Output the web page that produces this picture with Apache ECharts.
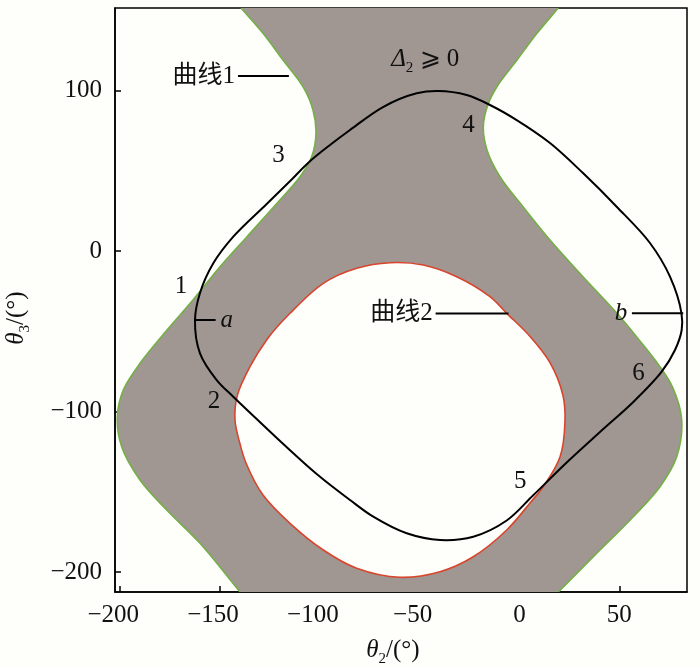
<!DOCTYPE html>
<html>
<head>
<meta charset="utf-8">
<script src="https://cdn.jsdelivr.net/npm/echarts@6/dist/echarts.min.js"></script>
<style>
html,body{margin:0;padding:0;background:#fefefb;}
#c{width:700px;height:667px;}
</style>
</head>
<body>
<div id="c"></div>
<script>
// ---------------- data ----------------
const xTicks = [-200, -150, -100, -50, 0, 50];
const yTicks = [-200, -100, 0, 100];

// 曲线1 (green), left branch, top -> bottom  [θ2, θ3]
const curve1Left = [
  [-139.49,151.4],[-128.47,135.64],[-118.46,119.01],[-108.44,102.39],[-103.43,87.87],
  [-101.93,73.36],[-104.08,58.79],[-109.94,46.33],[-121.46,29.77],[-136.49,8.97],
  [-150.01,-9.72],[-163.54,-30.45],[-176.56,-49.14],[-190.08,-69.88],[-198.45,-86.5],
  [-201.45,-103.13],[-199.25,-121.82],[-190.08,-142.56],[-176.71,-161.24],[-160.03,-181.98],
  [-140.0,-212.3]
];
// 曲线1 (green), right branch, top -> bottom
const curve1Right = [
  [19.43,151.4],[8.77,135.64],[-1.25,119.01],[-10.77,103.44],[-15.78,91.3],[-18.13,77.47],
  [-16.28,62.96],[-9.77,46.33],[1.75,27.65],[15.28,6.91],[31.81,-15.94],[48.84,-38.74],
  [60.36,-55.99],[69.37,-70.31],[76.88,-85.26],[81.24,-105.19],[78.74,-128.04],
  [70.37,-146.73],[57.0,-165.41],[40.32,-186.15],[19.43,-212.3]
];
// 曲线2 (red), closed, clockwise from the top
const curve2 = [
  [-64.86,-7.22],[-48.18,-8.66],[-31.45,-15.94],[-14.78,-28.4],[-6.41,-38.74],[5.41,-53.31],
  [15.28,-69.5],[21.79,-89.99],[22.79,-105.81],[20.29,-128.23],[11.77,-146.91],[5.26,-156.88],
  [-6.41,-173.69],[-23.14,-190.32],[-39.82,-199.66],[-59.85,-203.15],[-81.54,-197.55],
  [-98.27,-186.15],[-114.95,-169.52],[-128.47,-151.9],[-136.99,-131.97],[-140.0,-120.01],
  [-142.5,-105.19],[-141.35,-89.99],[-134.99,-71.99],[-126.47,-54.99],[-114.95,-38.74],
  [-98.27,-20.05],[-81.54,-10.71]
];
// black closed curve, clockwise from the top
const blackCurve = [
  [-40.82,99.7],[-26.45,97.2],[-14.78,91.0],[-1.4,81.6],[15.28,67.3],[31.81,48.6],
  [48.68,27.65],[65.36,5.04],[75.38,-15.94],[81.14,-38.74],[81.24,-49.14],[77.89,-61.59],
  [71.22,-75.11],[57.0,-93.98],[40.32,-112.66],[23.64,-131.66],[6.76,-152.21],[-6.41,-167.78],
  [-23.14,-177.87],[-39.82,-179.92],[-56.5,-175.75],[-73.23,-165.41],[-84.9,-155.01],
  [-101.58,-138.82],[-118.31,-120.13],[-131.63,-104.56],[-143.35,-90.68],[-151.66,-80.28],
  [-160.03,-63.65],[-162.53,-42.91],[-160.03,-26.09],[-153.37,-7.6],[-143.35,8.97],
  [-126.62,29.33],[-114.1,44.59],[-105.78,55.05],[-94.92,66.08],[-84.9,75.42],
  [-68.37,89.74],[-51.49,98.28]
];
// annotation texts and their anchor points (data coordinates)
const labelTexts = ['曲线1','曲线2','a','b','1','2','3','4','5','6','{d|Δ}{s|2}{n| ⩾ 0}'];
const labelPoints = [
  [-141.5,109],[-42.5,-38.9],[-150.7,-42.9],[55,-38.7],
  [-169.6,-22.3],[-153,-93.5],[-120.7,59.8],[-25.5,78.5],[0.4,-143.6],[59.6,-76.1],
  [-47.2,119.6]
];
const labelAlign = ['right','right','left','right','center','center','center','center','center','center','center'];
const labelItalic = [false,false,true,true,false,false,false,false,false,false,false];
// leader lines
const leaderLines = [
  [[-141,109],[-115.5,109]],
  [[-42,-38.9],[-5.5,-38.9]],
  [[-163,-42.9],[-152.2,-42.9]],
  [[56.3,-38.7],[82,-38.7]]
];

// ---------------- styling ----------------
const BG = '#fefefb';
const GRAY = '#a09692';
const GREEN = '#74b046';
const RED = '#d8452d';
const INK = '#111';
const SERIF = '"Liberation Serif","Times New Roman","Noto Sans CJK SC",serif';
const FS = 25;
const X_MIN = -202.6, X_MAX = 83.9, Y_MIN = -212.3, Y_MAX = 151.4;

function pt(p){ return p[0].toFixed(2) + ' ' + p[1].toFixed(2); }
function dist(a, b){ return Math.hypot(b[0] - a[0], b[1] - a[1]); }
// centripetal Catmull-Rom through the points, as cubic Bezier commands
function segs(pts, closed){
  const n = pts.length;
  const get = function (i) {
    if (closed) return pts[(i + n) % n];
    if (i < 0) return [2 * pts[0][0] - pts[1][0], 2 * pts[0][1] - pts[1][1]];
    if (i > n - 1) return [2 * pts[n - 1][0] - pts[n - 2][0], 2 * pts[n - 1][1] - pts[n - 2][1]];
    return pts[i];
  };
  let d = '';
  const m = closed ? n : n - 1;
  for (let i = 0; i < m; i++) {
    const p0 = get(i - 1), p1 = get(i), p2 = get(i + 1), p3 = get(i + 2);
    const d1 = Math.sqrt(dist(p0, p1)) || 1e-6, d2 = Math.sqrt(dist(p1, p2)) || 1e-6, d3 = Math.sqrt(dist(p2, p3)) || 1e-6;
    const b1 = [0, 1].map(k => (d1 * d1 * p2[k] - d2 * d2 * p0[k] + (2 * d1 * d1 + 3 * d1 * d2 + d2 * d2) * p1[k]) / (3 * d1 * (d1 + d2)));
    const b2 = [0, 1].map(k => (d3 * d3 * p1[k] - d2 * d2 * p3[k] + (2 * d3 * d3 + 3 * d3 * d2 + d2 * d2) * p2[k]) / (3 * d3 * (d3 + d2)));
    d += 'C' + pt(b1) + ' ' + pt(b2) + ' ' + pt(p2);
  }
  return d;
}
function openPath(px){ return 'M' + pt(px[0]) + segs(px, false); }
function closedPath(px){ return 'M' + pt(px[0]) + segs(px, true) + 'Z'; }

const chart = echarts.init(document.getElementById('c'));
const minus = v => String(v).replace('-', '\u2212');
const xLabel = v => v < 0 ? '{g|\u2212' + (-v) + '}' : '{p|' + v + '}';

const richBase = {
  i: {fontFamily: SERIF, fontStyle: 'italic', fontSize: FS, lineHeight: 34, color: INK},
  d: {fontFamily: SERIF, fontStyle: 'italic', fontSize: FS, lineHeight: 34, color: INK},
  s: {fontFamily: SERIF, fontSize: 15, lineHeight: 34, verticalAlign: 'bottom', color: INK},
  n: {fontFamily: SERIF, fontSize: FS, lineHeight: 34, color: INK}
};

const option = {
  backgroundColor: BG,
  animation: false,
  grid: {
    left: 115, right: 13, top: 8, bottom: 75, containLabel: false, outerBoundsMode: 'none',
    show: true, borderColor: '#000', borderWidth: 1.5, backgroundColor: BG
  },
  xAxis: {
    type: 'value', min: X_MIN, max: X_MAX,
    splitLine: {show: false},
    axisLine: {onZero: false, lineStyle: {color: '#000', width: 1.5}},
    axisTick: {inside: true, length: 6, lineStyle: {color: '#000', width: 1.5}, customValues: xTicks},
    axisLabel: {
      customValues: xTicks, formatter: xLabel, margin: 11,
      rich: {
        g: {fontFamily: SERIF, fontSize: FS, color: INK, padding: [0, 14, 0, 0]},
        p: {fontFamily: SERIF, fontSize: FS, color: INK}
      }
    },
    name: '{i|θ}{s|2}{n|/(°)}', nameLocation: 'middle', nameGap: 41,
    nameTextStyle: {rich: richBase, padding: [0, 16, 0, 0]}
  },
  yAxis: {
    type: 'value', min: Y_MIN, max: Y_MAX,
    splitLine: {show: false},
    axisLine: {onZero: false, lineStyle: {color: '#000', width: 1.5}},
    axisTick: {inside: true, length: 6, lineStyle: {color: '#000', width: 1.5}, customValues: yTicks},
    axisLabel: {customValues: yTicks, formatter: minus, fontFamily: SERIF, fontSize: FS, color: INK, margin: 13},
    name: '{i|θ}{s|3}{n|/(°)}', nameLocation: 'middle', nameGap: 82,
    nameTextStyle: {rich: richBase, padding: [0, 36, 0, 0]}
  },
  series: [
    {
      type: 'custom', coordinateSystem: 'cartesian2d', clip: true, silent: true, z: 2,
      data: [[X_MIN, Y_MIN]],
      renderItem: function (params, api) {
        const P = arr => arr.map(p => api.coord(p));
        const L = P(curve1Left), R = P(curve1Right), H = P(curve2), B = P(blackCurve);
        const Rr = R.slice().reverse();
        const band = 'M' + pt(L[0]) + segs(L, false) + 'L' + pt(Rr[0]) + segs(Rr, false) + 'Z';
        const holePath = closedPath(H);
        return {
          type: 'group',
          children: [
            {type: 'path', shape: {pathData: band}, style: {fill: GRAY, stroke: null}},
            {type: 'path', shape: {pathData: holePath}, style: {fill: BG, stroke: null}},
            {type: 'path', shape: {pathData: holePath}, style: {fill: null, stroke: RED, lineWidth: 1.6}},
            {type: 'path', shape: {pathData: openPath(L)}, style: {fill: null, stroke: GREEN, lineWidth: 1.6}},
            {type: 'path', shape: {pathData: openPath(R)}, style: {fill: null, stroke: GREEN, lineWidth: 1.6}},
            {type: 'path', shape: {pathData: closedPath(B)}, style: {fill: null, stroke: '#000', lineWidth: 2}}
          ]
        };
      }
    },
    {
      type: 'custom', coordinateSystem: 'cartesian2d', silent: true, z: 3,
      data: [[X_MIN, Y_MIN]],
      renderItem: function (params, api) {
        const children = [];
        leaderLines.forEach(function (seg) {
          const a = api.coord(seg[0]), b = api.coord(seg[1]);
          children.push({type: 'line', shape: {x1: a[0], y1: a[1], x2: b[0], y2: b[1]}, style: {stroke: '#000', lineWidth: 2}});
        });
        labelTexts.forEach(function (t, i) {
          const c = api.coord(labelPoints[i]);
          const pad = labelAlign[i] === 'right' ? -2 : (labelAlign[i] === 'left' ? 2 : 0);
          children.push({
            type: 'text', x: c[0] + pad, y: c[1],
            style: {
              text: t, fill: INK, fontFamily: SERIF, fontSize: FS,
              fontStyle: labelItalic[i] ? 'italic' : 'normal',
              align: labelAlign[i], verticalAlign: 'middle', rich: richBase
            }
          });
        });
        return {type: 'group', children: children};
      }
    }
  ]
};
chart.setOption(option);
</script>
</body>
</html>
